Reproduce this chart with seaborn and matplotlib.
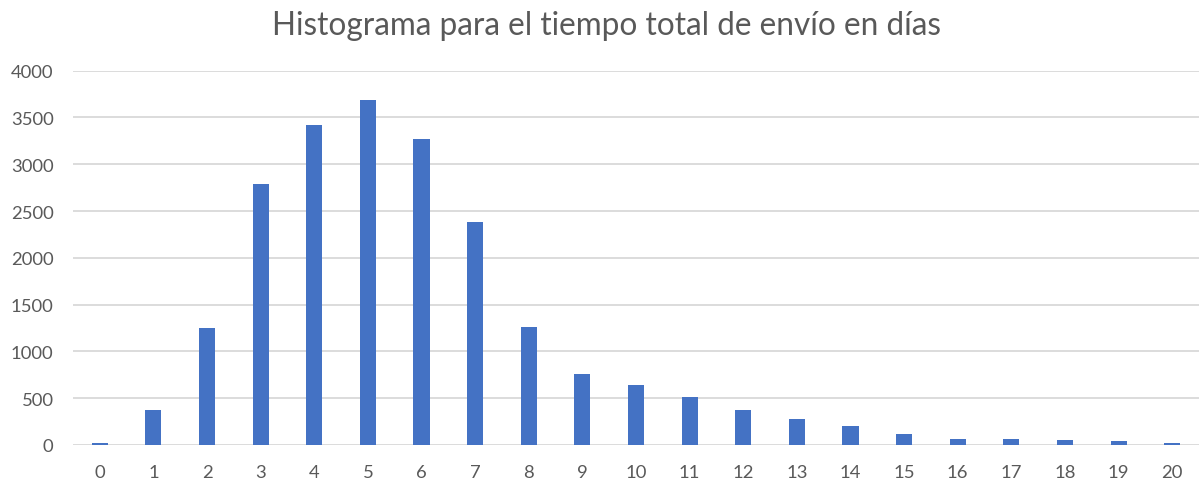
import matplotlib
matplotlib.use("Agg")
import matplotlib.pyplot as plt
import seaborn as sns
import pandas as pd

dias = [str(d) for d in range(21)]
frecuencia = [18, 375, 1250, 2790, 3420, 3690, 3270, 2380, 1260, 757,
              636, 511, 378, 278, 204, 114, 68, 68, 54, 39, 18]
y_ticks = [0, 500, 1000, 1500, 2000, 2500, 3000, 3500, 4000]
titulo = "Histograma para el tiempo total de envío en días"

sns.set_theme(style="white")
plt.rcParams['font.family'] = ['Lato', 'DejaVu Sans']

W, H = 1199, 485
fig = plt.figure(figsize=(W / 100, H / 100), dpi=100)
left, right, top, bottom = 73, 1199, 71.7, 446
ax = fig.add_axes([left / W, (H - bottom) / H, (right - left) / W, (bottom - top) / H])

df = pd.DataFrame({"dias": dias, "frecuencia": frecuencia})
sns.barplot(data=df, x="dias", y="frecuencia", order=dias, color="#4472C4",
            saturation=1, width=0.3, ax=ax, zorder=3, linewidth=0)

ax.set_xlim(-0.5, len(dias) - 0.5)
ax.set_ylim(0, 4000)
ax.set_yticks(y_ticks)
ax.set_yticklabels([str(v) for v in y_ticks])
ax.yaxis.grid(True, color="#D9D9D9", linewidth=1.3, zorder=0)
ax.xaxis.grid(False)
for s in ax.spines.values():
    s.set_visible(False)
ax.set_xlabel("")
ax.set_ylabel("")
ax.tick_params(axis="both", length=0, labelsize=13.3, labelcolor="#595959")
ax.tick_params(axis="x", pad=14)
ax.tick_params(axis="y", pad=14)

fig.text(607 / W, 1 - 35 / H, titulo, ha="center", va="baseline",
         fontsize=22.7, color="#595959", fontweight="normal")

fig.savefig("out.png", dpi=100, facecolor="white")
